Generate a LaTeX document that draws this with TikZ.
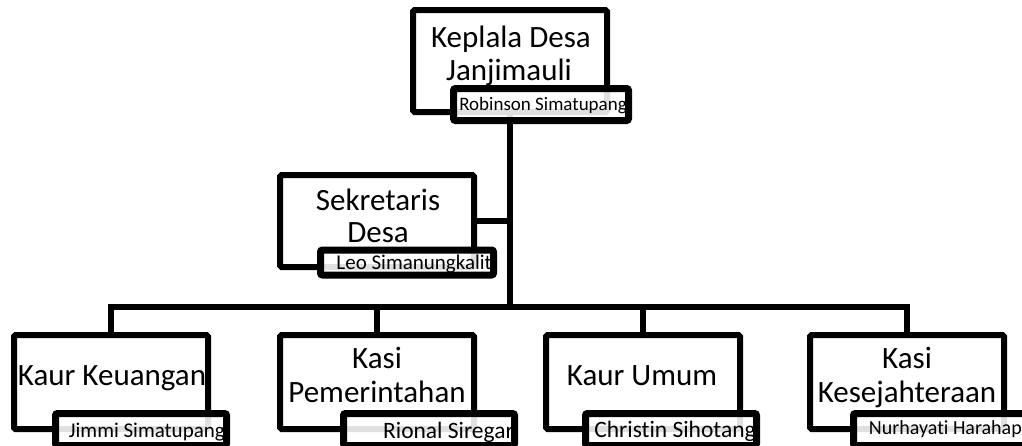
\documentclass[tikz,border=0pt]{standalone}
\usepackage{fontspec}
\setmainfont{Carlito}[Ligatures={NoCommon}]
\begin{document}
\begin{tikzpicture}[x=1pt,y=-1pt,
  mainbox/.style={draw=black,line width=6pt,rounded corners=1.5pt,inner sep=0pt,minimum width=194pt,minimum height=#1},
  namebox/.style={draw=black,line width=7pt,rounded corners=2pt,fill=white,fill opacity=0.88,inner sep=0pt,minimum width=#1,minimum height=32pt},
  conn/.style={draw=black,line width=6pt},
  bigtxt/.style={font=\fontsize{31}{34}\selectfont,inner sep=0pt,anchor=base},
  nametxt/.style={font=\fontsize{#1}{#1}\selectfont,inner sep=0pt,anchor=base east}]
\useasboundingbox (0,0) rectangle (1022,445);
\clip (0,0) rectangle (1022,445);
% main boxes
\node[mainbox=102pt] (top) at (510,61) {};
\node[mainbox=92pt] (sek) at (377,221) {};
\node[mainbox=94pt] (k1) at (111,382) {};
\node[mainbox=94pt] (k2) at (377,382) {};
\node[mainbox=94pt] (k3) at (643,382) {};
\node[mainbox=94pt] (k4) at (907,382) {};
% connectors
\coordinate (j) at (510,307);
\draw[conn] (top.south) -- (j);
\draw[conn] (sek.east) -- (sek.east -| j);
\draw[conn] (k1.north) |- (j) -| (k4.north);
\draw[conn] (j) -| (k2.north);
\draw[conn] (j) -| (k3.north);
% titles
\node[bigtxt] (t0a) at (511,47) {Keplala Desa};
\node[bigtxt] (t0b) at (509,80) {Janjimauli};
\node[bigtxt] (tsa) at (378,210) {Sekretaris};
\node[bigtxt] (tsb) at (378,242) {Desa};
\node[bigtxt] (t1) at (112,385) {Kaur Keuangan};
\node[bigtxt] (t2a) at (377,368) {Kasi};
\node[bigtxt] (t2b) at (377,402) {Pemerintahan};
\node[bigtxt] (t3) at (642,385) {Kaur Umum};
\node[bigtxt] (t4a) at (907,368) {Kasi};
\node[bigtxt] (t4b) at (907,402) {Kesejahteraan};
% name boxes
\node[namebox=175pt] (n0) at (541,104.5) {};
\node[namebox=173pt,minimum height=25pt] (ns) at (407,262.5) {};
\node[namebox=171pt] (n1) at (141,429.5) {};
\node[namebox=171pt] (n2) at (429,429.5) {};
\node[namebox=171pt] (n3) at (671,429.5) {};
\node[namebox=173pt] (n4) at (940,429.5) {};
% names
\node[nametxt=19] (m0) at (627,110) {Robinson Simatupang};
\node[nametxt=21] (ms) at (492,269) {Leo Simanungkalit};
\node[nametxt=21] (m1) at (225,437) {Jimmi Simatupang};
\node[nametxt=23.5] (m2) at (514,438) {Rional Siregar};
\node[nametxt=23.5] (m3) at (756,437) {Christin Sihotang};
\node[nametxt=20] (m4) at (1022,434) {Nurhayati Harahap};
\end{tikzpicture}
\end{document}
